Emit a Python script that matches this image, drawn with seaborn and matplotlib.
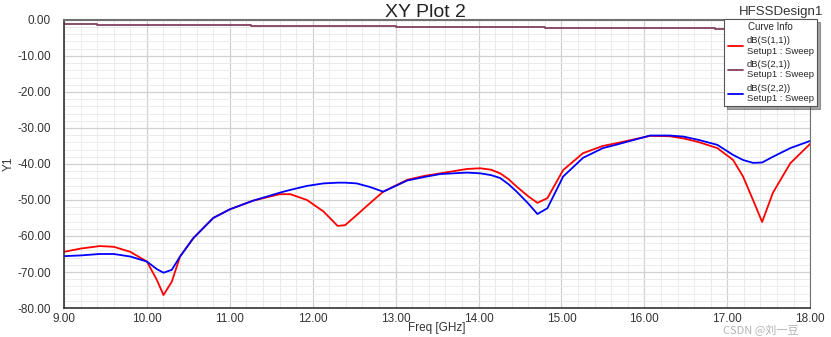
import numpy as np
import pandas as pd
import matplotlib
matplotlib.use("Agg")
import matplotlib.pyplot as plt
import seaborn as sns
from matplotlib.ticker import MultipleLocator, FormatStrFormatter

# frequency points (GHz) shared by S11 and S22
freq = [9.0, 9.2, 9.43, 9.6, 9.8, 10.0, 10.12, 10.2, 10.3, 10.4, 10.56, 10.8, 11.0, 11.28,
        11.6, 11.73, 11.93, 12.13, 12.3, 12.39, 12.53, 12.69, 12.85, 13.14, 13.35, 13.54, 13.86,
        14.02, 14.15, 14.26, 14.36, 14.46, 14.6, 14.71, 14.83, 15.02, 15.26, 15.5, 15.67, 16.07,
        16.3, 16.47, 16.65, 16.88, 17.07, 17.19, 17.31, 17.42, 17.55, 17.76, 18.0]

# S11 (red)
s11 = [-64.4, -63.5, -62.8, -63.0, -64.4, -67.1, -72.2, -76.4, -72.7, -65.7, -60.6, -55.0,
       -52.6, -50.2, -48.4, -48.4, -50.0, -53.2, -57.2, -57.0, -54.2, -50.9, -47.7, -44.4,
       -43.3, -42.6, -41.4, -41.2, -41.6, -42.6, -44.2, -46.3, -49.0, -50.8, -49.5, -41.7,
       -37.0, -35.0, -34.2, -32.2, -32.3, -32.9, -33.9, -35.6, -38.9, -43.5, -50.0, -56.1,
       -48.0, -39.8, -34.4]

# S22 (blue)
s22 = [-65.6, -65.4, -65.0, -65.0, -65.7, -67.1, -69.2, -70.2, -69.4, -65.7, -60.6, -55.0,
       -52.6, -50.2, -48.0, -47.2, -46.1, -45.4, -45.2, -45.2, -45.4, -46.4, -47.7, -44.6,
       -43.6, -42.8, -42.4, -42.6, -43.1, -43.9, -45.6, -47.7, -51.0, -53.9, -52.3, -43.5,
       -38.3, -35.6, -34.6, -32.1, -32.1, -32.4, -33.3, -34.7, -37.5, -38.9, -39.7, -39.6,
       -38.0, -35.6, -33.6]

# S21 (maroon), stepped
f_s21 = [9.0, 9.4, 9.4, 11.25, 11.25, 13.0, 13.0, 14.8, 14.8, 16.85, 16.85, 18.0]
s21 = [-1.1, -1.1, -1.5, -1.5, -1.8, -1.8, -2.0, -2.0, -2.2, -2.2, -2.5, -2.5]

labels = ["dB(S(1,1))\nSetup1 : Sweep", "dB(S(2,1))\nSetup1 : Sweep", "dB(S(2,2))\nSetup1 : Sweep"]
colors = ["#ff0000", "#80405f", "#0000ff"]

df = pd.concat([
    pd.DataFrame({"freq": freq, "val": s11, "curve": labels[0]}),
    pd.DataFrame({"freq": f_s21, "val": s21, "curve": labels[1]}),
    pd.DataFrame({"freq": freq, "val": s22, "curve": labels[2]}),
])

sns.set_style("white")
plt.rcParams['font.family'] = ['Liberation Sans', 'DejaVu Sans']

fig = plt.figure(figsize=(8.31, 3.37), dpi=100)
ax = fig.add_axes([0.077, 0.086, 0.898, 0.855])

sns.lineplot(data=df, x="freq", y="val", hue="curve", palette=dict(zip(labels, colors)),
             sort=False, estimator=None, linewidth=1.3, ax=ax)

ax.set_xlim(9, 18)
ax.set_ylim(-80, 0)
ax.xaxis.set_major_locator(MultipleLocator(1))
ax.xaxis.set_minor_locator(MultipleLocator(0.2))
ax.yaxis.set_major_locator(MultipleLocator(10))
ax.yaxis.set_minor_locator(MultipleLocator(2))
ax.xaxis.set_major_formatter(FormatStrFormatter("%.2f"))
ax.yaxis.set_major_formatter(FormatStrFormatter("%.2f"))
ax.grid(which="major", color="#d0d0d0", linewidth=0.9)
ax.grid(which="minor", color="#ebebeb", linewidth=0.7)
ax.set_axisbelow(True)
ax.tick_params(axis="both", which="major", labelsize=8.5, labelcolor="#333333", length=6,
               color="#333333", width=1)
ax.tick_params(axis="both", which="minor", length=3, color="#333333", width=1)
ax.tick_params(axis="x", which="both", direction="in")
ax.tick_params(axis="y", which="both", direction="out")
for s in ["left", "bottom"]:
    ax.spines[s].set_color("#333333")
    ax.spines[s].set_linewidth(1.2)
ax.spines["top"].set_color("#707070")
ax.spines["top"].set_linewidth(1.5)
ax.spines["right"].set_color("#707070")

ax.set_xlabel("Freq [GHz]", fontsize=8.5, color="#333333", labelpad=-2)
ax.set_ylabel("Y1", fontsize=8.5, color="#333333", labelpad=2)
ax.set_title("XY Plot 2", fontsize=14, color="#222222", pad=2, x=0.485)
fig.text(0.94, 0.963, "HFSSDesign1", fontsize=9.5, color="#333333", ha="center", va="center")

handles, _ = ax.get_legend_handles_labels()
leg = ax.legend(handles, labels, title="Curve Info", fontsize=6.8, title_fontsize=7,
                loc="upper right", bbox_to_anchor=(0.983, 0.944), bbox_transform=fig.transFigure,
                frameon=True, fancybox=False, shadow=True, framealpha=1, edgecolor="#555555",
                handlelength=1.6, handletextpad=0.4, labelspacing=0.45, borderpad=0.35,
                borderaxespad=0)
leg.get_frame().set_linewidth(0.8)

# watermark, nudged just below the tick labels
fig.text(0.915, 0.018, "CSDN @刘一豆", fontsize=8, color="#aaaaaa", ha="center", va="center",
         family=['Noto Sans CJK SC', 'DejaVu Sans'], alpha=0.9)

fig.savefig("out.png", dpi=100)
